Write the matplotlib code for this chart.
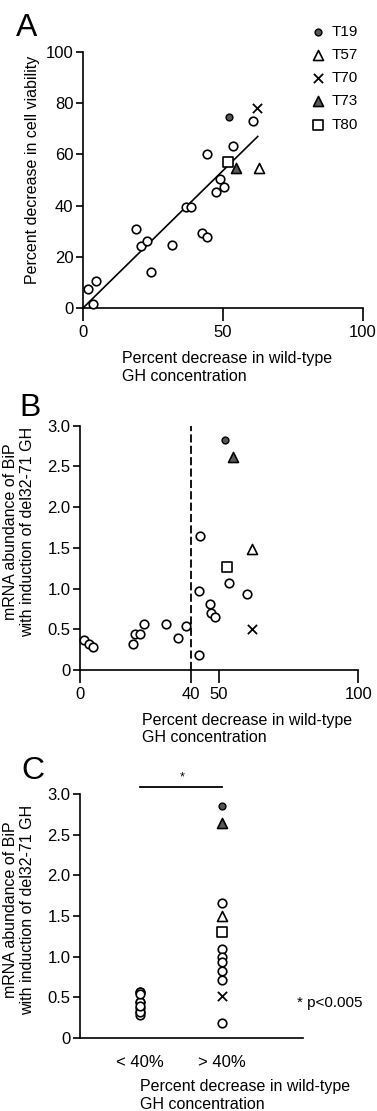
import numpy as np
import matplotlib as mpl
mpl.use('Agg')
import matplotlib.pyplot as plt

plt.rcParams['font.family'] = ['Liberation Sans', 'DejaVu Sans']

# panel A: percent decrease in WT GH vs decrease in cell viability (open circles)
a_x = [1.9, 3.5, 4.8, 18.9, 20.6, 22.9, 24.4, 31.7, 36.8, 38.6, 42.6, 44.3,
       44.4, 47.4, 48.8, 50.5, 53.6, 60.8]
a_y = [7.4, 1.7, 10.7, 30.9, 24.3, 26.3, 13.9, 24.5, 39.3, 39.3, 29.4, 27.7,
       60.2, 45.4, 50.3, 47.1, 63.3, 72.9]
# named mutants in panel A
a_named_x = {'T19': 52.0, 'T57': 62.7, 'T70': 62.1, 'T73': 54.5, 'T80': 51.8}
a_named_y = {'T19': 74.5, 'T57': 54.7, 'T70': 78.0, 'T73': 54.7, 'T80': 57.2}
fit_x = [0, 62.4]
fit_y = [0, 67.0]

# panel B: percent decrease in WT GH vs BiP mRNA
b_x = [1.6, 3.1, 4.7, 18.9, 19.6, 21.7, 23.0, 30.8, 35.2, 38.1,
       43.0, 42.9, 42.9, 46.9, 47.1, 48.6, 53.4, 59.9]
b_y = [0.37, 0.32, 0.28, 0.32, 0.44, 0.44, 0.57, 0.56, 0.39, 0.54,
       1.64, 0.97, 0.18, 0.81, 0.70, 0.65, 1.07, 0.93]
b_named_x = {'T19': 52.2, 'T57': 61.9, 'T70': 61.9, 'T73': 55.1, 'T80': 52.8}
b_named_y = {'T19': 2.82, 'T57': 1.49, 'T70': 0.51, 'T73': 2.61, 'T80': 1.27}
cutoff = 40

# panel C: grouped by cutoff
c_groups = ['< 40%', '> 40%']
c_low = [0.37, 0.32, 0.28, 0.32, 0.44, 0.44, 0.57, 0.56, 0.39, 0.54]
c_high = [1.66, 1.09, 1.00, 0.94, 0.83, 0.71, 0.19]
c_named_y = {'T19': 2.85, 'T57': 1.50, 'T70': 0.52, 'T73': 2.64, 'T80': 1.30}

names = ['T19', 'T57', 'T70', 'T73', 'T80']
styles = {
    'T19': dict(marker='o', s=24, facecolors='#555555', edgecolors='black', linewidths=1.0),
    'T57': dict(marker='^', s=52, facecolors='white', edgecolors='black', linewidths=1.2),
    'T70': dict(marker='x', s=44, color='black', linewidths=1.3),
    'T73': dict(marker='^', s=52, facecolors='#5a5a5a', edgecolors='black', linewidths=1.2),
    'T80': dict(marker='s', s=42, facecolors='white', edgecolors='black', linewidths=1.2),
}
circ = dict(marker='o', s=38, facecolors='white', edgecolors='black', linewidths=1.2, clip_on=False, zorder=3)


def style_axes(ax):
    for side in ['top', 'right']:
        ax.spines[side].set_visible(False)
    for side in ['left', 'bottom']:
        ax.spines[side].set_linewidth(1.2)
    ax.tick_params(direction='out', width=1.2, labelsize=12)
    ax.tick_params(axis='x', length=9, pad=3)
    ax.tick_params(axis='y', length=5, pad=2)


fig = plt.figure(figsize=(3.77, 11.11), dpi=100)

# ---------- A ----------
ax = fig.add_axes([0.2202, 0.7228, 0.7427, 0.2304])
style_axes(ax)
ax.plot(fit_x, fit_y, color='black', lw=1.2, zorder=2)
ax.scatter(a_x, a_y, **circ)
handles = []
for n in names:
    h = ax.scatter([a_named_x[n]], [a_named_y[n]], clip_on=False, zorder=4, **styles[n])
    handles.append(h)
ax.set_xlim(0, 100)
ax.set_ylim(0, 100)
ax.set_xticks([0, 50, 100])
ax.set_yticks([0, 20, 40, 60, 80, 100])
ax.set_ylabel('Percent decrease in cell viability', fontsize=11.5, va='center')
ax.yaxis.set_label_coords(-0.179, 0.54)
ax.set_xlabel('Percent decrease in wild-type\nGH concentration', fontsize=11.5,
              ha='left', va='top', multialignment='left')
ax.xaxis.set_label_coords(0.139, -0.17)
ax.legend(handles, names, loc='upper left', bbox_to_anchor=(0.822, 0.9775),
          bbox_transform=fig.transFigure, frameon=False, fontsize=11,
          handlelength=1.0, handletextpad=0.4, labelspacing=0.6,
          borderpad=0, borderaxespad=0, scatterpoints=1)
fig.text(0.043, 0.975, 'A', fontsize=23, ha='left', va='center')

# ---------- B ----------
ax = fig.add_axes([0.2122, 0.3969, 0.738, 0.2199])
style_axes(ax)
ax.plot([cutoff, cutoff], [0, 3.0], color='black', lw=1.3, ls=(0, (4.5, 1.8)), zorder=1)
ax.scatter(b_x, b_y, **circ)
for n in names:
    ax.scatter([b_named_x[n]], [b_named_y[n]], clip_on=False, zorder=4, **styles[n])
ax.set_xlim(0, 100)
ax.set_ylim(0, 3.0)
ax.set_xticks([0, 40, 50, 100])
ax.set_yticks([0, 0.5, 1.0, 1.5, 2.0, 2.5, 3.0])
ax.set_yticklabels(['0', '0.5', '1.0', '1.5', '2.0', '2.5', '3.0'])
ax.set_ylabel('mRNA abundance of BiP\nwith induction of del32-71 GH', fontsize=11.5, va='center')
ax.yaxis.set_label_coords(-0.219, 0.565)
ax.set_xlabel('Percent decrease in wild-type\nGH concentration', fontsize=11.5,
              ha='left', va='top', multialignment='left')
ax.xaxis.set_label_coords(0.223, -0.175)
fig.text(0.052, 0.633, 'B', fontsize=23, ha='left', va='center')

# ---------- C ----------
ax = fig.add_axes([0.2122, 0.0657, 0.5915, 0.2196])
style_axes(ax)
ax.scatter(np.full(len(c_low), 1), c_low, **circ)
ax.scatter(np.full(len(c_high), 2), c_high, **circ)
for n in names:
    ax.scatter([2], [c_named_y[n]], clip_on=False, zorder=4, **styles[n])
ax.set_xlim(0.268, 2.99)
ax.set_ylim(0, 3.0)
ax.set_xticks([1, 2])
ax.set_xticklabels(c_groups)
ax.tick_params(axis='x', length=0, pad=12)
ax.set_yticks([0, 0.5, 1.0, 1.5, 2.0, 2.5, 3.0])
ax.set_yticklabels(['0', '0.5', '1.0', '1.5', '2.0', '2.5', '3.0'])
ax.set_ylabel('mRNA abundance of BiP\nwith induction of del32-71 GH', fontsize=11.5, va='center')
ax.yaxis.set_label_coords(-0.274, 0.525)
ax.set_xlabel('Percent decrease in wild-type\nGH concentration', fontsize=11.5,
              ha='left', va='top', multialignment='left')
ax.xaxis.set_label_coords(0.269, -0.17)
ax.plot([1, 2], [3.09, 3.09], color='black', lw=1.3, clip_on=False)
ax.text(1.52, 3.2, '*', fontsize=9, ha='center', va='center')
ax.text(0.973, 0.143, '* p<0.005', transform=ax.transAxes, fontsize=11,
        ha='left', va='center')
fig.text(0.056, 0.306, 'C', fontsize=23, ha='left', va='center')

fig.savefig('out.png', dpi=100)
